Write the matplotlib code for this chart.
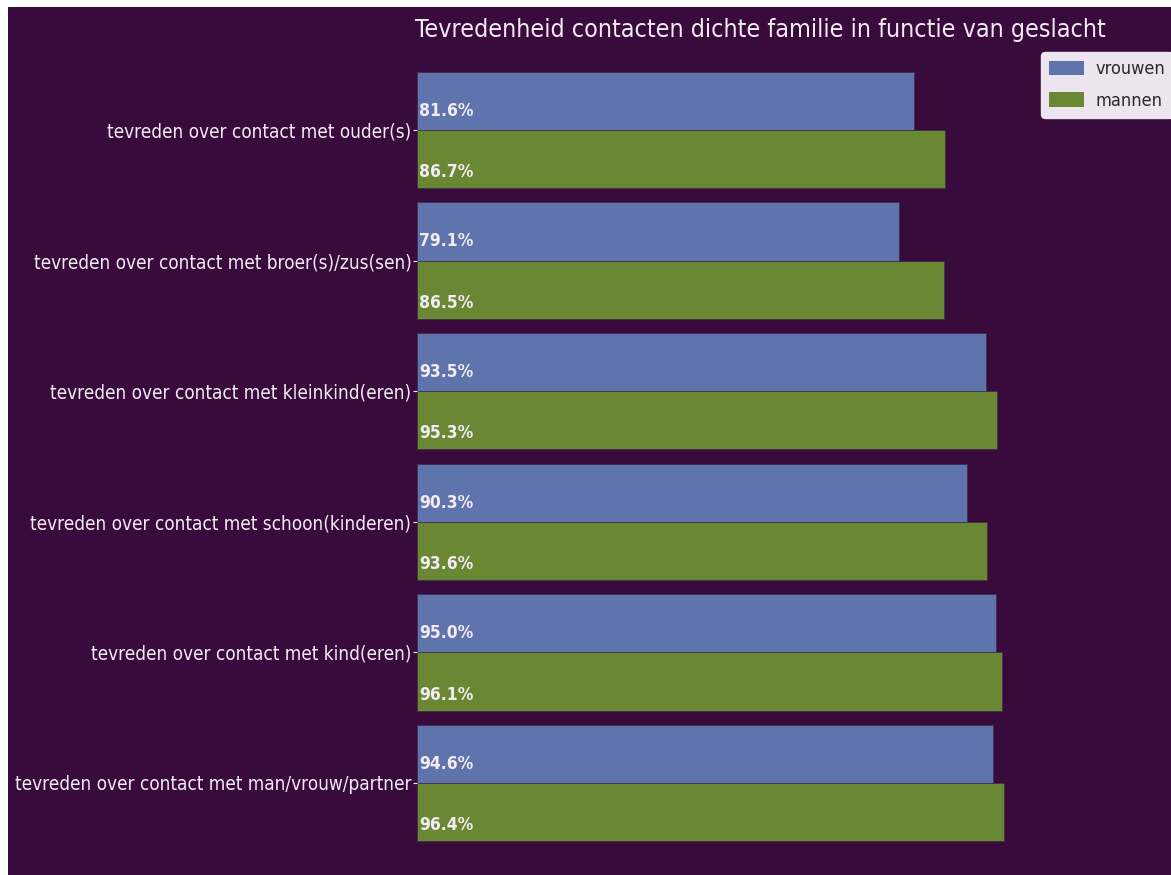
import matplotlib
matplotlib.use("Agg")
import matplotlib.pyplot as plt
from matplotlib.patches import Rectangle
import numpy as np

categories = [
    "tevreden over contact met ouder(s)",
    "tevreden over contact met broer(s)/zus(sen)",
    "tevreden over contact met kleinkind(eren)",
    "tevreden over contact met schoon(kinderen)",
    "tevreden over contact met kind(eren)",
    "tevreden over contact met man/vrouw/partner",
]
vrouwen = [81.6, 79.1, 93.5, 90.3, 95.0, 94.6]
mannen = [86.7, 86.5, 95.3, 93.6, 96.1, 96.4]
series_names = ["vrouwen", "mannen"]
title = "Tevredenheid contacten dichte familie in functie van geslacht"

BG = "#380b3c"
BLUE = "#5f73ad"
GREEN = "#6a8733"
TXT = "#f3ecf3"

plt.rcParams['font.family'] = ['DejaVu Sans']
plt.rcParams['font.stretch'] = 'condensed'

W, H = 1171, 875
fig = plt.figure(figsize=(W / 100, H / 100), dpi=100)
fig.patch.set_facecolor("white")
fig.add_artist(Rectangle((8 / W, 0), 1 - 8 / W, 1 - 7 / H, transform=fig.transFigure,
                         facecolor=BG, edgecolor="none", zorder=-10))

ax = fig.add_axes([417 / W, 0, 686 / W, (H - 50) / H])
ax.set_facecolor("none")
for s in ax.spines.values():
    s.set_visible(False)

y = np.arange(len(categories))
h = 0.445
b1 = ax.barh(y - h / 2, vrouwen, height=h, color=BLUE, edgecolor="#3a2a4a", linewidth=0.5, label=series_names[0])
b2 = ax.barh(y + h / 2, mannen, height=h, color=GREEN, edgecolor="#3a2a4a", linewidth=0.5, label=series_names[1])

for yi, v in zip(y, vrouwen):
    ax.text(0.3, yi - h / 2 + 0.075, f"{v:.1f}%", color=TXT, fontsize=12.5, fontweight="bold",
            va="center", ha="left")
for yi, v in zip(y, mannen):
    ax.text(0.3, yi + h / 2 + 0.1, f"{v:.1f}%", color=TXT, fontsize=12.5, fontweight="bold",
            va="center", ha="left")

ax.set_xlim(0, 686 / 6.09)
ax.set_ylim((875 - 130) / 130.6, (50 - 130) / 130.6)
ax.set_yticks(y)
ax.set_yticklabels(categories, color=TXT, fontsize=13.6)
ax.tick_params(axis="y", length=3, color=TXT, pad=1)
ax.set_xticks([])

ax.set_title(title, color=TXT, fontsize=17.9, pad=9)

leg = fig.legend(handles=[b1, b2], labels=series_names, loc="upper left",
                 bbox_to_anchor=(1041 / W, 1 - 52 / H), borderaxespad=0, frameon=True,
                 facecolor="#ece4ee", edgecolor="#ece4ee", framealpha=1, fontsize=13,
                 labelcolor="#2e2530", handlelength=1.95, handleheight=0.85, handletextpad=0.6,
                 borderpad=0.45, labelspacing=0.75)
for hnd in leg.legend_handles:
    hnd.set_edgecolor("none")

fig.savefig("out.png", dpi=100, facecolor=fig.get_facecolor())
